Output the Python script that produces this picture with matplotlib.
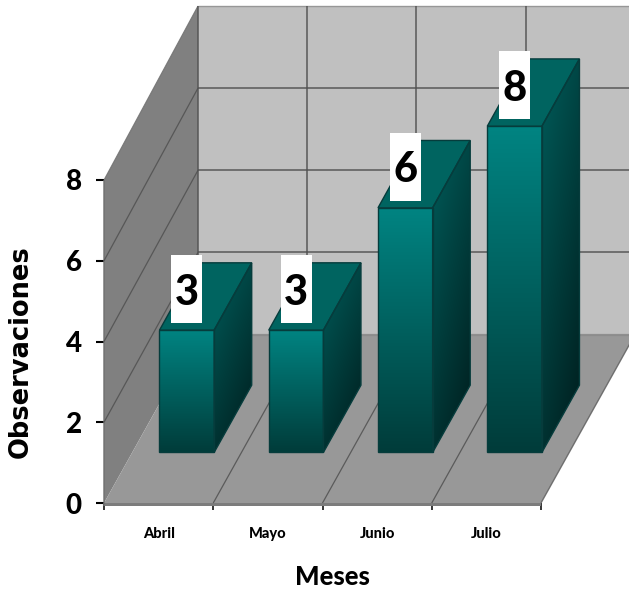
import numpy as np
import matplotlib
matplotlib.use("Agg")
import matplotlib.pyplot as plt
from matplotlib.patches import Polygon, Rectangle

meses = ["Abril", "Mayo", "Junio", "Julio"]
observaciones = [3, 3, 6, 8]
yticks = [0, 2, 4, 6, 8]

FUENTE = "Lato"

# oblique depth of the box, in axis units (x categories, y values)
DX = 0.86
DY = 4.17
GROW = 0.0174  # values get slightly taller towards the back wall
BAR_W = 0.5
BAR_D0, BAR_D1 = 0.30, 0.70


def proy(x, z, d):
    return x + DX * d, z * (1 + GROW * d) + DY * d


def barra_proy(x, z, d):
    return x + DX * d, z * 1.01 + DY * d


def cara(ax, puntos, color, zorder, lw=0.0, ec="none"):
    ax.add_patch(Polygon(puntos, closed=True, fc=color, ec=ec, lw=lw,
                         zorder=zorder, clip_on=False))


def linea(ax, a, b, color="#505050", lw=1.0, zorder=3, alpha=0.85):
    ax.plot([a[0], b[0]], [a[1], b[1]], color=color, lw=lw, zorder=zorder,
            alpha=alpha, clip_on=False, solid_capstyle="butt")


def degradado(ax, puntos, c_ini, c_fin, zorder, diagonal=0.0):
    # gradient image clipped to one face of the bar
    xs = [p[0] for p in puntos]
    ys = [p[1] for p in puntos]
    v, u = np.mgrid[0:1:128j, 0:1:64j]
    t = np.clip((v + diagonal * u) / (1 + diagonal), 0, 1)[..., None]
    img = np.array(c_ini) * (1 - t) + np.array(c_fin) * t
    im = ax.imshow(img / 255.0, extent=(min(xs), max(xs), min(ys), max(ys)),
                   origin="upper", aspect="auto", zorder=zorder,
                   interpolation="bilinear")
    pol = Polygon(puntos, closed=True, fc="none", ec="none", transform=ax.transData)
    ax.add_patch(pol)
    im.set_clip_path(pol)
    im.set_clip_box(fig.bbox)  # bars reach above the axes box


fig = plt.figure(figsize=(6.29, 5.92), dpi=100, facecolor="white")
ax = fig.add_axes([104 / 629, (592 - 503) / 592, 437 / 629, 323 / 592])
ax.set_facecolor("none")
for s in ax.spines.values():
    s.set_visible(False)

n = len(meses)
ztop = yticks[-1]

# walls and floor
cara(ax, [proy(0, 0, 0), proy(0, ztop, 0), proy(0, ztop, 1), proy(0, 0, 1)], "#808080", 1)
cara(ax, [proy(0, 0, 1), proy(0, ztop, 1), proy(n, ztop, 1), proy(n, 0, 1)], "#c0c0c0", 1)
cara(ax, [proy(0, 0, 0), proy(n, 0, 0), proy(n, 0, 1), proy(0, 0, 1)], "#989898", 1)
cara(ax, [proy(0, 0, 0), proy(n, 0, 0), proy(n, -0.08, 0), proy(0, -0.08, 0)], "#7c7c7c", 2)
linea(ax, proy(0, 0, 0), proy(0, -0.08, 0), lw=1.5, color="#6e6e6e")
linea(ax, proy(0, 0, 0), proy(0, ztop, 0), color="#707070", lw=1.2)
linea(ax, proy(0, ztop, 0), proy(0, ztop, 1), color="#707070", lw=0.8)
linea(ax, proy(0, ztop, 1), proy(n, ztop, 1), color="#909090", lw=1.0)
linea(ax, proy(n, 0, 0), proy(n, 0, 1), color="#606060", lw=1.0)
linea(ax, proy(0, 0, 1), proy(n, 0, 1), color="#8a8a8a", lw=1.6)

# grid on the walls and floor
for z in yticks[1:]:
    if z < ztop:
        linea(ax, proy(0, z, 0), proy(0, z, 1), lw=0.9)
        linea(ax, proy(0, z, 1), proy(n, z, 1), lw=1.2)
for i in range(n):
    linea(ax, proy(i, 0, 1), proy(i, ztop, 1), lw=1.2)
    if i > 0:
        linea(ax, proy(i, 0, 0), proy(i, 0, 1), lw=0.9)

# bars
for i, val in enumerate(observaciones):
    x0 = i + 0.5 - BAR_W / 2
    x1 = i + 0.5 + BAR_W / 2
    f = [barra_proy(x0, val, BAR_D0), barra_proy(x1, val, BAR_D0),
         barra_proy(x1, 0, BAR_D0), barra_proy(x0, 0, BAR_D0)]
    lado = [barra_proy(x1, val, BAR_D0), barra_proy(x1, val, BAR_D1),
            barra_proy(x1, 0, BAR_D1), barra_proy(x1, 0, BAR_D0)]
    tapa = [barra_proy(x0, val, BAR_D0), barra_proy(x0, val, BAR_D1),
            barra_proy(x1, val, BAR_D1), barra_proy(x1, val, BAR_D0)]

    degradado(ax, lado, (0, 92, 90), (0, 28, 28), 5, diagonal=0.5)
    degradado(ax, f, (0, 132, 130), (0, 60, 58), 5)
    cara(ax, tapa, "#006460", 5)
    for pts in (f, lado, tapa):
        ax.add_patch(Polygon(pts, closed=True, fc="none", ec="#063c3c", lw=1.0,
                             zorder=6, clip_on=False))

    # value label in its white box, just above the front face
    cx = (x0 + x1) / 2 + DX * BAR_D0
    cy = barra_proy(x0, val, BAR_D0)[1]
    alto = 68 / 40.4
    ancho = 31 / 109.25
    base = cy + 7 / 40.4
    ax.add_patch(Rectangle((cx - ancho / 2, base), ancho, alto, fc="white",
                           ec="none", zorder=7, clip_on=False))
    ax.text(cx, base + alto / 2, str(val), ha="center", va="center_baseline",
            fontsize=30, fontweight=900, family=FUENTE, color="black", zorder=8)

ax.set_xlim(0, n)
ax.set_ylim(0, ztop)

ax.set_yticks(yticks)
ax.set_yticklabels([str(v) for v in yticks], fontsize=20, fontweight=900, family=FUENTE)
ax.tick_params(axis="y", length=6, width=1.5, pad=10, color="black")
ax.set_xticks(range(n + 1))
ax.set_xticklabels([""] * (n + 1))
ax.tick_params(axis="x", which="major", length=5, width=1.1, color="black")
ax.set_xticks([i + 0.5 for i in range(n)], minor=True)
ax.set_xticklabels(meses, minor=True, fontsize=10.5, fontweight=900, family=FUENTE)
ax.tick_params(axis="x", which="minor", length=0, pad=17)

ax.set_xlabel("Meses", fontsize=18.5, fontweight=900, family=FUENTE)
ax.xaxis.set_label_coords((332 - 104) / 437, -(577 - 503) / 323, ax.transAxes)
ax.xaxis.label.set_verticalalignment("center")
ax.set_ylabel("Observaciones", fontsize=18.5, fontweight="bold", family="DejaVu Sans")
ax.yaxis.set_label_coords((21 - 104) / 437, (503 - 352) / 323, ax.transAxes)
ax.yaxis.label.set_verticalalignment("center")

fig.savefig("out.png", dpi=100)
